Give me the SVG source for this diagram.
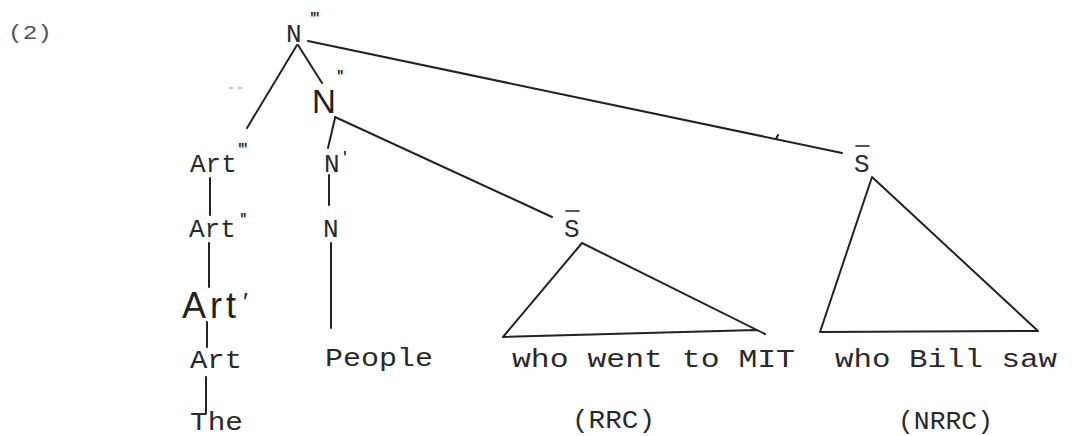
<svg xmlns="http://www.w3.org/2000/svg" width="1077" height="436" viewBox="0 0 1077 436">
<style>
.dm{font-family:"Liberation Mono","DejaVu Sans Mono",monospace;font-size:26px;fill:#2a2a2a}
.sf{font-family:"Liberation Sans",Arial,sans-serif;fill:#222}
.pr{font-family:"Liberation Sans",Arial,sans-serif;font-size:20px;fill:#222;letter-spacing:-1px}
.ln{stroke:#222;stroke-width:2;fill:none;stroke-linecap:round;stroke-linejoin:round}
.nz{stroke:#bbb;stroke-width:1.5}
</style>
<rect width="1077" height="436" fill="#fff"/>
<text class="dm" x="8" y="39" textLength="44" lengthAdjust="spacingAndGlyphs" style="font-size:20px;fill:#555">(2)</text>
<line class="nz" x1="229" y1="88" x2="233" y2="88"/>
<line class="nz" x1="238" y1="88" x2="242" y2="88"/>
<g id="connectors">
<line class="ln" x1="297" y1="45" x2="247" y2="128"/>
<line class="ln" x1="298" y1="45" x2="322" y2="83"/>
<line class="ln" x1="308" y1="41" x2="842" y2="153"/>
<line class="ln" x1="335" y1="118" x2="328" y2="148"/>
<line class="ln" x1="335" y1="117" x2="552" y2="217"/>
<line class="ln" x1="210" y1="178" x2="210" y2="215"/>
<line class="ln" x1="209" y1="243" x2="209" y2="287"/>
<line class="ln" x1="207" y1="322" x2="207" y2="347"/>
<line class="ln" x1="206" y1="377" x2="206" y2="413"/>
<line class="ln" x1="329" y1="175" x2="329" y2="205"/>
<line class="ln" x1="331" y1="243" x2="331" y2="328"/>
<path class="ln" d="M776,139 L778,135"/>
</g>
<g id="n3">
<text class="dm" x="286" y="42">N<tspan class="pr" x="310" y="26">'''</tspan></text>
</g>
<g id="n2">
<text class="sf" x="312" y="113" style="font-size:33px">N<tspan class="pr" x="337" y="84">''</tspan></text>
</g>
<g id="art3">
<text class="dm" x="190" y="172">Art<tspan class="pr" x="238" y="157">'''</tspan></text>
</g>
<g id="n1">
<text class="dm" x="324" y="172">N<tspan class="pr" x="343" y="165">'</tspan></text>
</g>
<g id="art2">
<text class="dm" x="189" y="237">Art<tspan class="pr" x="240" y="227">''</tspan></text>
</g>
<g id="n0">
<text class="dm" x="323" y="237">N</text>
</g>
<g id="art1">
<text class="sf" x="182" y="318" style="font-size:36px;letter-spacing:4px">Art<tspan x="243" y="311" style="font-size:26px;letter-spacing:0">′</tspan></text>
</g>
<g id="art0">
<text class="dm" x="190" y="368" textLength="52" lengthAdjust="spacingAndGlyphs">Art</text>
</g>
<g id="the">
<text class="dm" x="190" y="430" textLength="53" lengthAdjust="spacingAndGlyphs">The</text>
</g>
<g id="people">
<text class="dm" x="325" y="366" textLength="108" lengthAdjust="spacingAndGlyphs">People</text>
</g>
<g id="sbar-rrc">
<line class="ln" x1="566" y1="211" x2="579" y2="211" style="stroke-width:1.6"/>
<text class="dm" x="564" y="237">S</text>
<path class="ln" d="M765,334 L582,243 L503,337 L757,330"/>
<text class="dm" x="512" y="367" textLength="283" lengthAdjust="spacingAndGlyphs">who went to MIT</text>
<text class="dm" x="572" y="428" textLength="83" lengthAdjust="spacingAndGlyphs">(RRC)</text>
</g>
<g id="sbar-nrrc">
<line class="ln" x1="856" y1="146" x2="869" y2="146" style="stroke-width:1.6"/>
<text class="dm" x="854" y="172">S</text>
<path class="ln" d="M872,177 L820,332 L1038,331 Z"/>
<text class="dm" x="835" y="367" textLength="222" lengthAdjust="spacingAndGlyphs">who Bill saw</text>
<text class="dm" x="898" y="429" textLength="95" lengthAdjust="spacingAndGlyphs">(NRRC)</text>
</g>
</svg>
